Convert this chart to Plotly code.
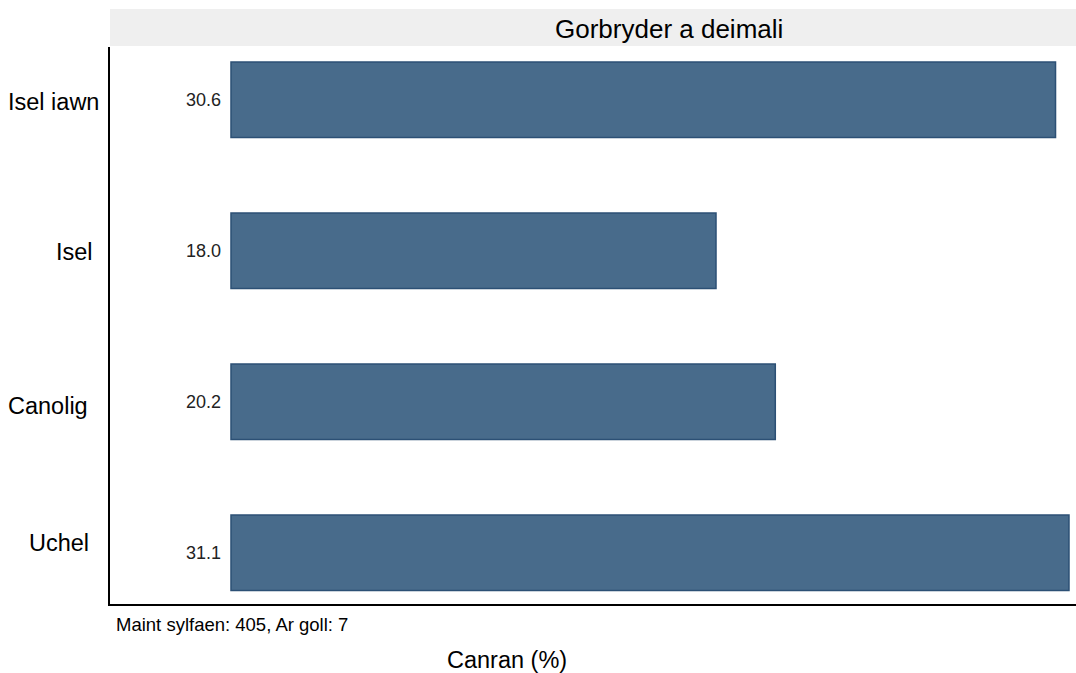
import plotly.graph_objects as go

# data
categories = ["Isel iawn", "Isel", "Canolig", "Uchel"]
values = [30.6, 18.0, 20.2, 31.1]
value_labels = ["30.6", "18.0", "20.2", "31.1"]
panel_title = "Gorbryder a deimali"
footnote = "Maint sylfaen: 405, Ar goll: 7"
x_title = "Canran (%)"

W, H = 1076, 673
L, R, T, B = 110, 0, 47, 69
plot_w = W - L - R
plot_h = H - T - B


def px_x(p):
    return (p - L) / plot_w


def px_y(p):
    return 1 - (p - T) / plot_h


fig = go.Figure()
fig.add_trace(go.Bar(
    x=values, y=categories, orientation="h", width=0.5,
    marker=dict(color="#486b8b", line=dict(color="#2c5075", width=1.5)),
    hoverinfo="x+y", showlegend=False,
))

# value labels just left of the bar start
for cat, lab in zip(categories, value_labels):
    fig.add_annotation(x=-0.3, y=cat, text=lab, xanchor="right", yanchor="middle",
                       showarrow=False, font=dict(size=18, color="#222222"))

# category labels (placed by hand, they are not aligned in the reference)
label_pos = [(101, 102), (95, 252), (90, 406), (91, 543)]
for cat, (px, py) in zip(categories, label_pos):
    fig.add_annotation(xref="paper", yref="paper", x=px_x(px), y=px_y(py),
                       text=cat, xanchor="right", yanchor="middle", showarrow=False,
                       font=dict(size=23.5, color="black"))

# grey strip title
fig.add_shape(type="rect", xref="paper", yref="paper", x0=0, x1=1,
              y0=px_y(46), y1=px_y(9),
              fillcolor="#efefef", line=dict(width=0), layer="below")
fig.add_annotation(xref="paper", yref="paper", x=px_x(669), y=px_y(29),
                   text=panel_title, showarrow=False, xanchor="center",
                   yanchor="middle", font=dict(size=26, color="black"))

fig.add_annotation(xref="paper", yref="paper", x=px_x(114), y=px_y(625),
                   text=footnote, showarrow=False, xanchor="left",
                   yanchor="middle", font=dict(size=18.5, color="black"))
fig.add_annotation(xref="paper", yref="paper", x=px_x(507), y=px_y(660),
                   text=x_title, showarrow=False, xanchor="center",
                   yanchor="middle", font=dict(size=23.5, color="black"))

fig.update_xaxes(range=[-4.49, 31.36], showticklabels=False, ticks="",
                 showgrid=False, zeroline=False, showline=True,
                 linecolor="black", linewidth=1.5)
fig.update_yaxes(range=[3.34, -0.35], showticklabels=False, ticks="",
                 showgrid=False, zeroline=False, showline=True,
                 linecolor="black", linewidth=1.5)
fig.update_layout(
    width=W, height=H, margin=dict(l=L, r=R, t=T, b=B),
    plot_bgcolor="white", paper_bgcolor="white",
    font=dict(family="Liberation Sans, Arial, sans-serif"),
)
# drop the browser's default page margin so the figure sits at 0,0
fig.write_html("out.html", config={"displayModeBar": False},
               post_script="document.body.style.margin='0';")
